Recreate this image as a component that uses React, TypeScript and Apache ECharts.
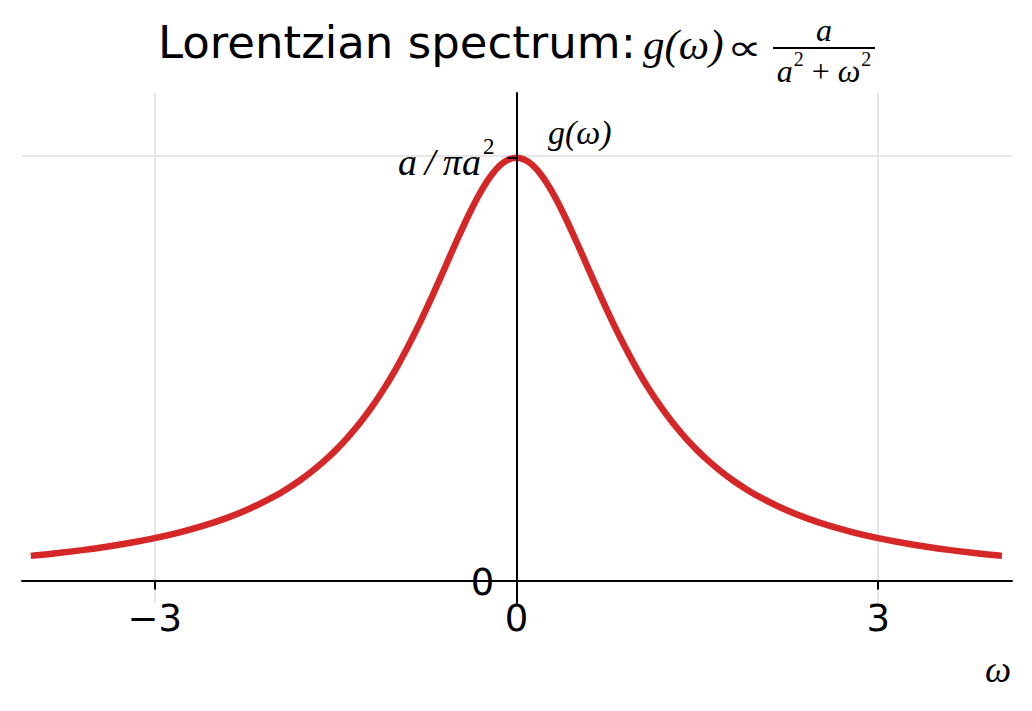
import React, { useEffect, useRef } from "react";
import * as echarts from "echarts";

// Frequency samples (ω) and spectrum values g(ω) (a = 1)
const omega = [
  -4, -3.8, -3.6, -3.4, -3.2, -3, -2.8, -2.6, -2.4, -2.2, -2, -1.9, -1.8, -1.7, -1.6, -1.5, -1.4, -1.3,
  -1.2, -1.1, -1, -0.9, -0.8, -0.7, -0.6, -0.5, -0.4, -0.3, -0.2, -0.1, 0, 0.1, 0.2, 0.3, 0.4, 0.5, 0.6,
  0.7, 0.8, 0.9, 1, 1.1, 1.2, 1.3, 1.4, 1.5, 1.6, 1.7, 1.8, 1.9, 2, 2.2, 2.4, 2.6, 2.8, 3, 3.2, 3.4, 3.6,
  3.8, 4,
];
const gValues = [
  0.01872, 0.02062, 0.0228, 0.02534, 0.02832, 0.03183, 0.03601, 0.04102, 0.04709, 0.05451, 0.06366,
  0.06905, 0.07507, 0.08183, 0.08941, 0.09794, 0.10754, 0.11833, 0.13046, 0.14403, 0.15915, 0.17586,
  0.19409, 0.21363, 0.23405, 0.25465, 0.27441, 0.29203, 0.30607, 0.31515, 0.3183, 0.31515, 0.30607,
  0.29203, 0.27441, 0.25465, 0.23405, 0.21363, 0.19409, 0.17586, 0.15915, 0.14403, 0.13046, 0.11833,
  0.10754, 0.09794, 0.08941, 0.08183, 0.07507, 0.06905, 0.06366, 0.05451, 0.04709, 0.04102, 0.03601,
  0.03183, 0.02832, 0.02534, 0.0228, 0.02062, 0.01872,
];
const xTicks = [-3, 0, 3];
const peakValue = 0.3183;
const yTicks = [0, peakValue];

const SANS = "DejaVu Sans";
const SERIF = "'Liberation Serif', 'DejaVu Serif', serif";

export default function App() {
  const ref = useRef<HTMLDivElement>(null);

  useEffect(() => {
    if (!ref.current) return;
    const chart = echarts.init(ref.current, undefined, { renderer: "svg" });
    const data = omega.map((w, i) => [w, gValues[i]]);

    chart.setOption({
      animation: false,
      backgroundColor: "#ffffff",
      grid: { left: 22, right: 20, top: 93, bottom: 108, outerBoundsMode: "none" },
      xAxis: {
        type: "value",
        min: -4.1,
        max: 4.11,
        z: 10,
        offset: -22.6,
        axisLine: { onZero: false, lineStyle: { color: "#000", width: 2 } },
        axisTick: { show: true, customValues: xTicks, length: 9, lineStyle: { color: "#000", width: 2 } },
        axisLabel: {
          customValues: xTicks,
          margin: 20,
          fontSize: 37,
          fontFamily: SANS,
          color: "#000",
          formatter: (v: number) => (v < 0 ? "\u2212" + Math.abs(v) : String(v)),
        },
        splitLine: { show: false },
      },
      yAxis: {
        type: "value",
        min: -0.017,
        max: 0.367,
        z: 10,
        offset: -494.4,
        axisLine: { onZero: false, lineStyle: { color: "#000", width: 2 } },
        axisTick: { show: true, customValues: yTicks, length: 9, lineStyle: { color: "#000", width: 2 } },
        axisLabel: {
          customValues: yTicks,
          margin: 22,
          color: "#000",
          formatter: (v: number) => (v < 0.1 ? "{s|0}" : "{m|a\u2009/\u2009πa}{p|2}"),
          rich: {
            s: { fontSize: 37, fontFamily: SANS, color: "#000", padding: [4, 0, 0, 0] },
            m: { fontSize: 38, fontFamily: SERIF, fontStyle: "italic", color: "#000", padding: [8, 0, 0, 0] },
            p: { fontSize: 23, fontFamily: SERIF, color: "#000", verticalAlign: "top", padding: [0, 0, 8, 2] },
          },
        },
        splitLine: { show: false },
      },
      series: [
        {
          type: "line",
          data: [],
          z: 1,
          silent: true,
          markLine: {
            silent: true,
            symbol: ["none", "none"],
            label: { show: false },
            lineStyle: { color: "#e6e6e6", width: 2, type: "solid" },
            data: [{ xAxis: -3 }, { xAxis: 0 }, { xAxis: 3 }, { yAxis: peakValue }],
          },
        },
        {
          type: "line",
          data,
          z: 5,
          smooth: 0.3,
          showSymbol: false,
          lineStyle: { color: "#d62728", width: 6.5, cap: "square" },
          itemStyle: { color: "#d62728" },
        },
      ],
      graphic: [
        {
          type: "text",
          x: 158,
          y: 42,
          style: { text: "Lorentzian spectrum:", font: `45px ${SANS}`, fill: "#000", verticalAlign: "middle" },
        },
        {
          type: "text",
          x: 643,
          y: 44,
          style: { text: "g(ω)", font: `italic 43px ${SERIF}`, fill: "#000", verticalAlign: "middle" },
        },
        {
          type: "text",
          x: 727,
          y: 47,
          scaleX: 1.35,
          style: { text: "∝", font: `36px ${SANS}`, fill: "#000", verticalAlign: "middle" },
        },
        {
          type: "text",
          x: 824,
          y: 30,
          style: { text: "a", font: `italic 32px ${SERIF}`, fill: "#000", align: "center", verticalAlign: "middle" },
        },
        {
          type: "line",
          shape: { x1: 773, y1: 48, x2: 875, y2: 48 },
          style: { stroke: "#000", lineWidth: 2 },
        },
        {
          type: "text",
          x: 824,
          y: 68,
          style: {
            text: "{b|a}{p|2}{o| + }{b|ω}{p|2}",
            align: "center",
            verticalAlign: "middle",
            rich: {
              b: { fontSize: 32, fontFamily: SERIF, fontStyle: "italic", fill: "#000", padding: [6, 0, 0, 0] },
              o: { fontSize: 32, fontFamily: SERIF, fill: "#000", padding: [6, 0, 0, 0] },
              p: { fontSize: 20, fontFamily: SERIF, fill: "#000", verticalAlign: "top", padding: [0, 0, 10, 1] },
            },
          },
        },
        {
          type: "text",
          x: 548,
          y: 132,
          style: { text: "g(ω)", font: `italic 34px ${SERIF}`, fill: "#000", verticalAlign: "middle" },
        },
        {
          type: "text",
          x: 1011,
          y: 669,
          style: { text: "ω", font: `italic 37px ${SERIF}`, fill: "#000", align: "right", verticalAlign: "middle" },
        },
      ],
    });

    return () => chart.dispose();
  }, []);

  return <div ref={ref} style={{ position: "fixed", left: 0, top: 0, width: 1032, height: 711 }} />;
}
